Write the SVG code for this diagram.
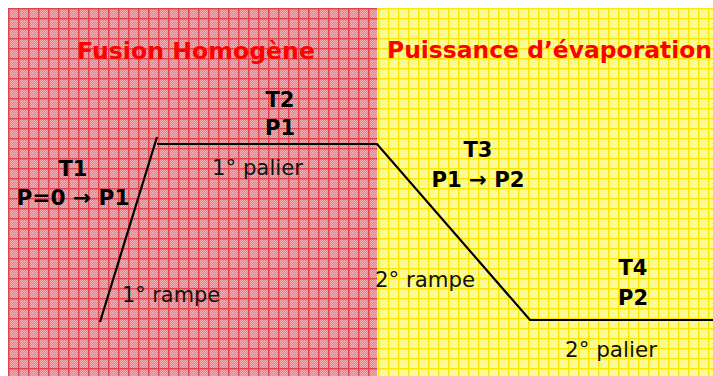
<svg xmlns="http://www.w3.org/2000/svg" width="713" height="376" viewBox="0 0 713 376">
<defs>
<pattern id="dotsR" width="2" height="2" patternUnits="userSpaceOnUse">
<rect width="2" height="2" fill="#ea7a84"/>
<rect width="1" height="1" fill="#f6b4b8"/>
<rect x="1" y="1" width="1" height="1" fill="#f6b4b8"/>
</pattern>
<pattern id="gridR" x="8" y="8" width="10" height="10" patternUnits="userSpaceOnUse">
<rect width="10" height="10" fill="url(#dotsR)"/>
<rect width="10" height="1.4" fill="#e2404e"/>
<rect width="1.4" height="10" fill="#e2404e"/>
</pattern>
<pattern id="dotsY" width="2" height="2" patternUnits="userSpaceOnUse">
<rect width="2" height="2" fill="#ffff3c"/>
<rect width="1" height="1" fill="#ffff9c"/>
<rect x="1" y="1" width="1" height="1" fill="#ffff9c"/>
</pattern>
<pattern id="gridY" x="8" y="8" width="10" height="10" patternUnits="userSpaceOnUse">
<rect width="10" height="10" fill="url(#dotsY)"/>
<rect width="10" height="1.4" fill="#fbe800"/>
<rect width="1.4" height="10" fill="#fbe800"/>
</pattern>
</defs>
<style>
.title{font-family:"DejaVu Sans",Verdana,sans-serif;font-weight:bold;font-size:23px;fill:#ff0000}
.b{font-family:"DejaVu Sans",Verdana,sans-serif;font-weight:bold;font-size:21px;fill:#000;text-anchor:middle}
.n{font-family:"DejaVu Sans",Verdana,sans-serif;font-size:21px;fill:#111}
.ln{fill:none;stroke:#000;stroke-width:2.2}
</style>
<rect width="713" height="376" fill="#ffffff"/>
<g id="zone-fusion">
<rect x="8" y="8" width="369" height="368" fill="url(#gridR)"/>
<text class="title" x="196" y="59" text-anchor="middle" textLength="238" lengthAdjust="spacingAndGlyphs">Fusion Homogène</text>
</g>
<g id="zone-evaporation">
<rect x="377" y="8" width="336" height="368" fill="url(#gridY)"/>
<text class="title" x="387" y="58" textLength="325" lengthAdjust="spacingAndGlyphs">Puissance d’évaporation</text>
</g>
<g id="connectors">
<line class="ln" x1="100" y1="322" x2="157" y2="137"/>
<polyline class="ln" points="157,144 377,144 530,320 713,320"/>
</g>
<g id="T1">
<text class="b" x="73" y="176">T1</text>
<text class="b" x="73" y="205" textLength="113" lengthAdjust="spacingAndGlyphs">P=0 → P1</text>
</g>
<g id="T2">
<text class="b" x="280" y="107">T2</text>
<text class="b" x="280" y="135">P1</text>
</g>
<g id="T3">
<text class="b" x="478" y="157">T3</text>
<text class="b" x="478" y="187" textLength="93" lengthAdjust="spacingAndGlyphs">P1 → P2</text>
</g>
<g id="T4">
<text class="b" x="633" y="275">T4</text>
<text class="b" x="633" y="305">P2</text>
</g>
<g id="labels">
<text class="n" x="212" y="175" textLength="91" lengthAdjust="spacingAndGlyphs">1° palier</text>
<text class="n" x="122" y="302" textLength="98" lengthAdjust="spacingAndGlyphs">1° rampe</text>
<text class="n" x="375" y="287" textLength="100" lengthAdjust="spacingAndGlyphs">2° rampe</text>
<text class="n" x="565" y="357" textLength="92" lengthAdjust="spacingAndGlyphs">2° palier</text>
</g>
</svg>
